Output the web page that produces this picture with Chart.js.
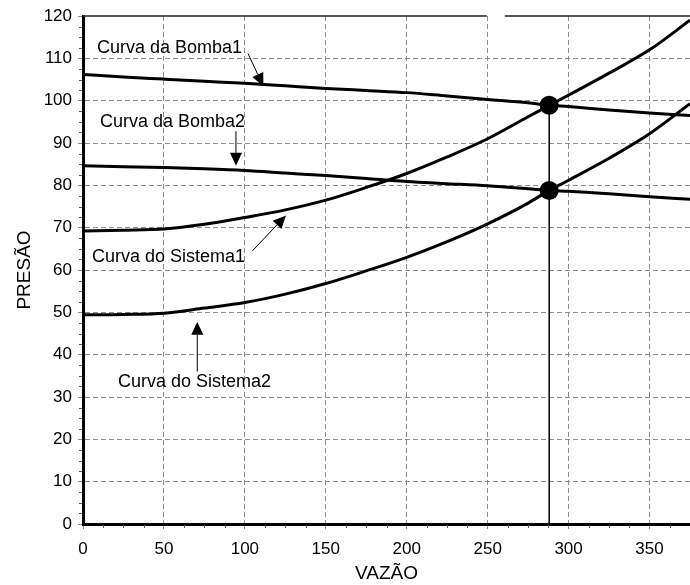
<!DOCTYPE html>
<html>
<head>
<meta charset="utf-8">
<script src="https://cdn.jsdelivr.net/npm/chart.js@4.4.0/dist/chart.umd.min.js"></script>
<style>
  html, body { margin: 0; padding: 0; background: #fff; }
  #chart-area { display: block; }
</style>
</head>
<body>
<canvas id="chart-area" width="690" height="585"></canvas>
<script>
// vazao (x) e pressao (y)
const vazao = [0, 25, 50, 75, 100, 125, 150, 175, 200, 225, 250, 275, 288, 300, 325, 350, 375];
const bomba1 = [106.2, 105.6, 105.1, 104.6, 104.1, 103.5, 102.9, 102.4, 101.9, 101.1, 100.3, 99.5, 98.9, 98.6, 97.8, 97.1, 96.5];
const bomba2 = [84.6, 84.4, 84.2, 83.9, 83.5, 82.9, 82.3, 81.6, 80.9, 80.4, 79.9, 79.2, 78.8, 78.6, 78.0, 77.3, 76.7];
const sistema1 = [69.2, 69.4, 69.7, 70.8, 72.4, 74.2, 76.5, 79.5, 82.8, 86.7, 91.0, 96.2, 98.9, 101.3, 106.5, 112.0, 119.0];
const sistema2 = [49.4, 49.5, 49.8, 51.0, 52.3, 54.3, 56.8, 59.8, 63.0, 66.7, 70.9, 75.8, 78.8, 81.2, 86.4, 92.2, 99.3];

// pontos de operacao
const opVazao = [288, 288];
const opPressao = [98.9, 78.8];

const xTicks = [0, 50, 100, 150, 200, 250, 300, 350];
const yTicks = [0, 10, 20, 30, 40, 50, 60, 70, 80, 90, 100, 110, 120];

// textos e setas (em unidades do grafico)
const notes = [
  { text: 'Curva da Bomba1',   x: 8.6,  y: 112.4, from: [102, 111.1], to: [111.4, 103.4] },
  { text: 'Curva da Bomba2',   x: 10.5, y: 95.0,  from: [94.5, 92.8], to: [94.5, 84.6] },
  { text: 'Curva do Sistema1', x: 5.6,  y: 63.1,  from: [104.6, 64.5], to: [125.4, 72.9] },
  { text: 'Curva do Sistema2', x: 21.6, y: 33.6,  from: [70.6, 36.0], to: [70.6, 47.8] }
];

const pts = ys => vazao.map((v, i) => ({ x: v, y: ys[i] }));

Chart.defaults.font.family = '"Liberation Sans", Arial, sans-serif';
Chart.defaults.color = '#000';

function arrow(ctx, x1, y1, x2, y2) {
  const a = Math.atan2(y2 - y1, x2 - x1);
  const len = 13, w = 6;
  const bx = x2 - len * Math.cos(a), by = y2 - len * Math.sin(a);
  ctx.beginPath();
  ctx.moveTo(x1, y1);
  ctx.lineTo(bx, by);
  ctx.stroke();
  ctx.beginPath();
  ctx.moveTo(x2, y2);
  ctx.lineTo(bx + w * Math.sin(a), by - w * Math.cos(a));
  ctx.lineTo(bx - w * Math.sin(a), by + w * Math.cos(a));
  ctx.closePath();
  ctx.fill();
}

const extras = {
  id: 'extras',
  beforeDatasetsDraw(chart) {
    const ctx = chart.ctx, xs = chart.scales.x, ys = chart.scales.y, area = chart.chartArea;
    ctx.save();
    // borda de cima (com falha)
    ctx.strokeStyle = '#222';
    ctx.lineWidth = 1.5;
    ctx.beginPath();
    ctx.moveTo(area.left, area.top);
    ctx.lineTo(xs.getPixelForValue(249.5), area.top);
    ctx.moveTo(xs.getPixelForValue(260.6), area.top);
    ctx.lineTo(area.right, area.top);
    ctx.stroke();
    // marcas menores
    ctx.strokeStyle = '#555';
    ctx.lineWidth = 1;
    ctx.beginPath();
    for (let v = 12.5; v < 375; v += 12.5) {
      if (v % 50 === 0) continue;
      const px = Math.round(xs.getPixelForValue(v)) + 0.5;
      ctx.moveTo(px, area.bottom + 1);
      ctx.lineTo(px, area.bottom + 4);
    }
    for (let v = 2.5; v < 120; v += 2.5) {
      if (v % 10 === 0) continue;
      const py = Math.round(ys.getPixelForValue(v)) + 0.5;
      ctx.moveTo(area.left - 1, py);
      ctx.lineTo(area.left - 4, py);
    }
    ctx.stroke();
    ctx.restore();
  },
  afterDatasetsDraw(chart) {
    const ctx = chart.ctx, xs = chart.scales.x, ys = chart.scales.y;
    ctx.save();
    ctx.fillStyle = '#000';
    ctx.strokeStyle = '#000';
    ctx.lineWidth = 1;
    ctx.font = '18px "Liberation Sans", Arial, sans-serif';
    ctx.textAlign = 'left';
    ctx.textBaseline = 'middle';
    notes.forEach(n => {
      ctx.fillText(n.text, xs.getPixelForValue(n.x), ys.getPixelForValue(n.y));
      arrow(ctx,
        xs.getPixelForValue(n.from[0]), ys.getPixelForValue(n.from[1]),
        xs.getPixelForValue(n.to[0]), ys.getPixelForValue(n.to[1]));
    });
    ctx.restore();
  }
};

const curve = {
  showLine: true,
  borderColor: '#000',
  borderWidth: 3,
  pointRadius: 0,
  cubicInterpolationMode: 'monotone',
  fill: false
};

const gridStyle = {
  lineWidth: 1,
  tickLength: 5,
  tickColor: '#8c8c8c',
  tickBorderDash: []
};

const config = {
  type: 'scatter',
  data: {
    datasets: [
      Object.assign({ label: 'Curva da Bomba1', data: pts(bomba1) }, curve),
      Object.assign({ label: 'Curva da Bomba2', data: pts(bomba2) }, curve),
      Object.assign({ label: 'Curva do Sistema1', data: pts(sistema1) }, curve),
      Object.assign({ label: 'Curva do Sistema2', data: pts(sistema2) }, curve),
      {
        label: 'vertical',
        data: [{ x: opVazao[0], y: 0 }, { x: opVazao[0], y: opPressao[0] }],
        showLine: true,
        borderColor: '#000',
        borderWidth: 1.5,
        pointRadius: 0
      },
      {
        label: 'operacao',
        data: opVazao.map((v, i) => ({ x: v, y: opPressao[i] })),
        pointRadius: 9.5,
        pointBackgroundColor: '#000',
        pointBorderColor: '#000',
        pointBorderWidth: 0
      }
    ]
  },
  options: {
    responsive: false,
    animation: false,
    // sem autoPadding: a area do grafico vai ate a borda direita, como na figura
    layout: { autoPadding: false, padding: { top: 16, right: 0, bottom: 0, left: 0 } },
    plugins: { legend: { display: false }, tooltip: { enabled: false } },
    scales: {
      x: {
        type: 'linear',
        min: 0,
        max: 375,
        afterFit: s => { s.height = 61; s.paddingRight = 0; s.paddingLeft = 0; },
        afterBuildTicks: s => { s.ticks = xTicks.map(v => ({ value: v })); },
        ticks: { font: { size: 17 }, padding: 10, maxRotation: 0, autoSkip: false },
        grid: Object.assign({ color: '#8c8c8c' }, gridStyle),
        // no Chart.js v4 o tracejado da grade fica em border.dash
        border: { display: true, color: '#000', width: 3, dash: [5, 3] },
        title: { display: true, text: 'VAZÃO', font: { size: 19 }, padding: { top: 0, bottom: 0 } }
      },
      y: {
        type: 'linear',
        min: 0,
        max: 120,
        afterFit: s => { s.width = 83; s.paddingTop = 0; s.paddingBottom = 0; },
        afterBuildTicks: s => { s.ticks = yTicks.map(v => ({ value: v })); },
        ticks: { font: { size: 17 }, padding: 6, autoSkip: false },
        grid: Object.assign({
          color: ctx => (ctx.tick && ctx.tick.value === 120 ? 'rgba(0,0,0,0)' : '#8c8c8c')
        }, gridStyle),
        border: { display: true, color: '#000', width: 3, dash: [5, 3] },
        title: { display: true, text: 'PRESÃO', font: { size: 19 }, padding: { top: 13, bottom: 0 } }
      }
    }
  },
  plugins: [extras]
};

var ctx = document.getElementById('chart-area').getContext('2d');
var myChart = new Chart(ctx, config);
</script>
</body>
</html>
